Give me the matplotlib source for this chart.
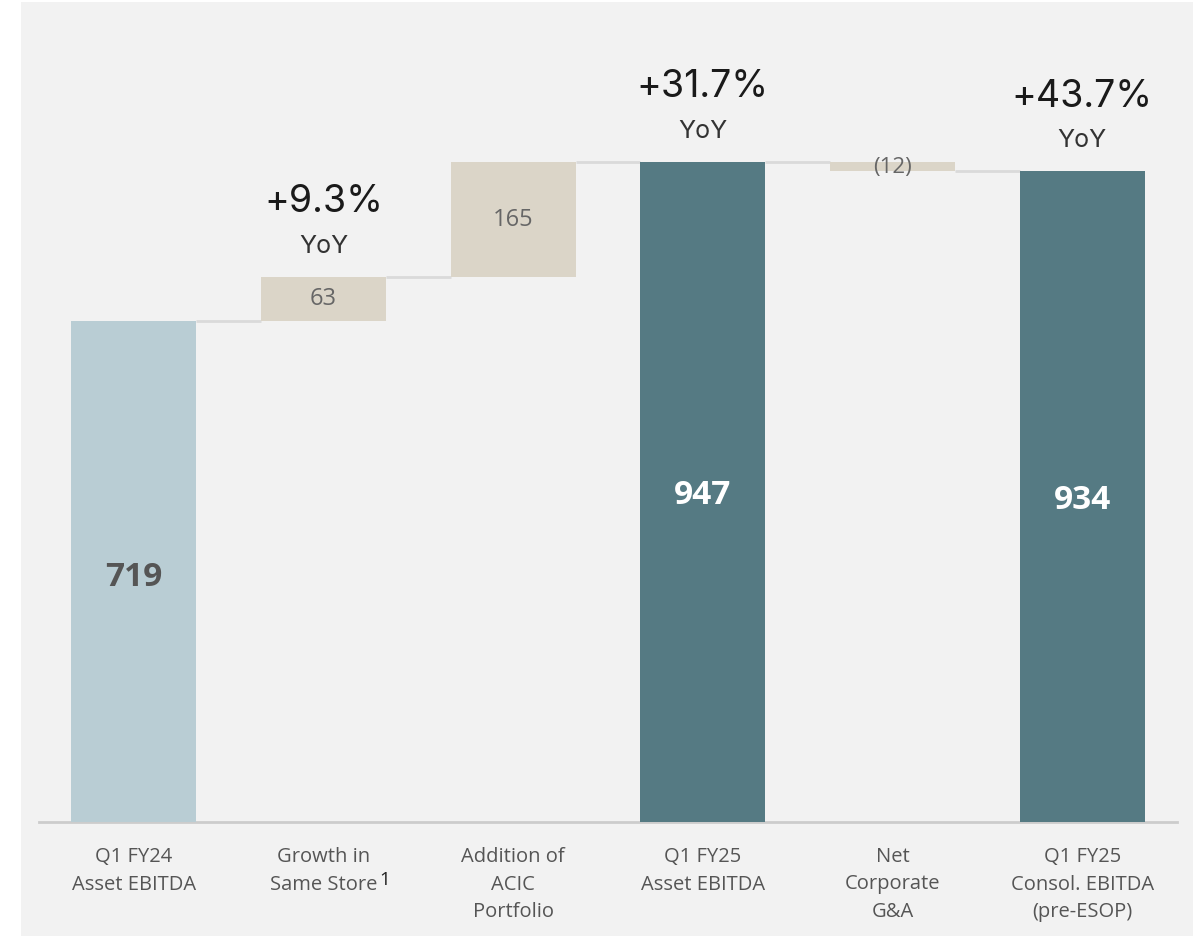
import matplotlib
matplotlib.use("Agg")
import matplotlib.pyplot as plt
import numpy as np
from matplotlib.patches import Rectangle

# data
categories = ["Q1 FY24\nAsset EBITDA", "Growth in\nSame Store", "Addition of\nACIC\nPortfolio",
              "Q1 FY25\nAsset EBITDA", "Net\nCorporate\nG&A", "Q1 FY25\nConsol. EBITDA\n(pre-ESOP)"]
values = [719, 63, 165, 947, -12, 934]
kinds = ["start", "delta", "delta", "total", "delta", "total"]
value_labels = ["719", "63", "165", "947", "(12)", "934"]
yoy_idx = [1, 3, 5]
yoy_pct = ["+9.3%", "+31.7%", "+43.7%"]

bg = "#f2f2f2"
c_start = "#b9cdd4"
c_total = "#557a83"
c_delta = "#dbd5c8"
c_line = "#dadada"

fig = plt.figure(figsize=(11.96, 9.36), dpi=100)
fig.patch.set_facecolor("white")
fig.patches.append(Rectangle((21 / 1196, 0), 1172 / 1196, 1 - 2 / 936,
                             transform=fig.transFigure, facecolor=bg, edgecolor="none", zorder=-5))

ax = fig.add_axes([39 / 1196, 1 - 822 / 936, 1138 / 1196, 767 / 936])
ax.set_facecolor("none")
ax.set_xlim(-0.5, 5.5)
ax.set_ylim(0, 767 / 0.6965)

# waterfall bottoms / tops
bottoms, tops = [], []
running = 0
for v, k in zip(values, kinds):
    if k == "delta":
        b, t = (running, running + v) if v >= 0 else (running + v, running)
        running += v
    else:
        b, t = 0, v
        running = v
    bottoms.append(b)
    tops.append(t)

colors = [c_start if k == "start" else c_total if k == "total" else c_delta for k in kinds]
x = np.arange(len(values))
w = 0.66
ax.bar(x, np.array(tops) - np.array(bottoms), bottom=bottoms, width=w, color=colors, zorder=3)

# connectors
level = values[0]
for i in range(len(values) - 1):
    if kinds[i] == "delta":
        level = level + values[i]
    else:
        level = values[i]
    ax.plot([i + w / 2, i + 1 - w / 2], [level, level], color=c_line, lw=2, zorder=2,
            solid_capstyle="butt")

# value labels
for i, (lab, k) in enumerate(zip(value_labels, kinds)):
    mid = (bottoms[i] + tops[i]) / 2
    if k == "start":
        ax.text(i, mid - 9, lab, ha="center", va="center", fontsize=24, fontweight="bold",
                color="#555555", family="Open Sans", zorder=4)
    elif k == "total":
        ax.text(i, mid - 5, lab, ha="center", va="center", fontsize=24, fontweight="bold",
                color="white", family="Open Sans", zorder=4)
    elif values[i] < 0:
        ax.text(i, mid - 1, lab, ha="center", va="center", fontsize=16,
                color="#666666", family="Open Sans", zorder=4)
    else:
        ax.text(i, mid, lab, ha="center", va="center", fontsize=17,
                color="#666666", family="Open Sans", zorder=4)

# YoY annotations
for i, pct in zip(yoy_idx, yoy_pct):
    ax.annotate("YoY", (i, tops[i]), xytext=(0, 14), textcoords="offset points",
                ha="center", va="bottom", fontsize=18, color="#333333", family="Inter")
    ax.annotate(pct, (i, tops[i]), xytext=(0, 41), textcoords="offset points",
                ha="center", va="bottom", fontsize=27, color="#1a1a1a", family="Inter")

# axis
for s in ["top", "right", "left"]:
    ax.spines[s].set_visible(False)
ax.spines["bottom"].set_color("#cccccc")
ax.spines["bottom"].set_linewidth(2)
ax.set_yticks([])
ax.set_xticks(x)
ax.set_xticklabels(categories, fontsize=14.5, color="#555555", family="Open Sans", linespacing=1.5)
ax.tick_params(axis="x", length=0, pad=18)
# footnote marker after "Same Store"
ax.text(1.295, -0.075, "1", transform=ax.get_xaxis_transform(), fontsize=13.5,
        color="#222222", family="Open Sans", ha="left", va="center")

fig.savefig("out.png", dpi=100, facecolor=fig.get_facecolor())
